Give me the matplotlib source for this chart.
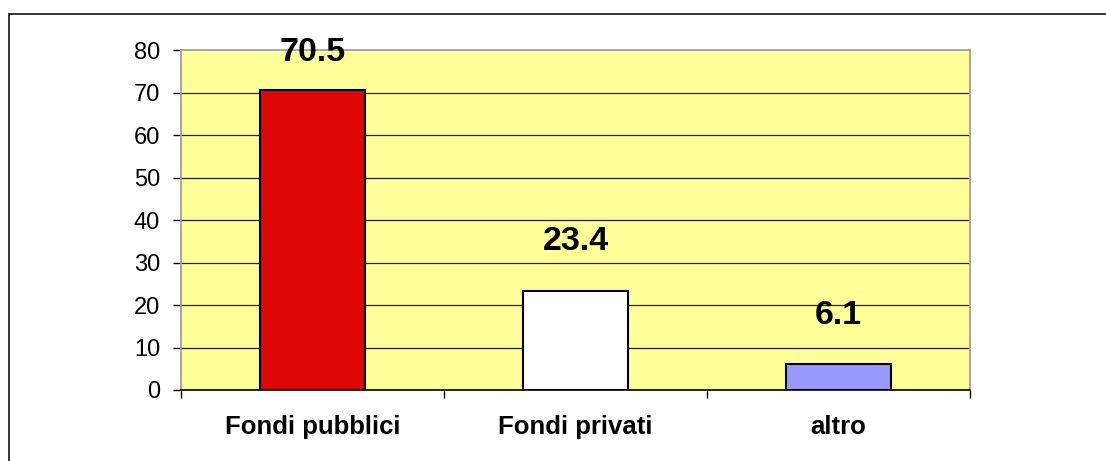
import matplotlib
matplotlib.use("Agg")
import matplotlib.pyplot as plt
from matplotlib.lines import Line2D

categories = ["Fondi pubblici", "Fondi privati", "altro"]
values = [70.5, 23.4, 6.1]
labels = ["70.5", "23.4", "6.1"]
colors = ["#DD0806", "#FFFFFF", "#9999FF"]
yticks = [0, 10, 20, 30, 40, 50, 60, 70, 80]

plt.rcParams['font.family'] = ['Liberation Sans', 'DejaVu Sans']
W, H = 1106, 461
fig = plt.figure(figsize=(W/100, H/100), dpi=100)
# outer chart frame (only top and left edges visible within image)
fig.lines.append(Line2D([8.5/W, 1.0], [1-14/H, 1-14/H], transform=fig.transFigure,
                        color='#333333', linewidth=1.4))
fig.lines.append(Line2D([8.5/W, 8.5/W], [0.0, 1-14/H], transform=fig.transFigure,
                        color='#333333', linewidth=1.4))
ax = fig.add_axes([181/W, 1-390/H, (970-181)/W, (390-50)/H])
ax.set_facecolor('#FFFF99')
x = list(range(len(categories)))
ax.bar(x, values, width=0.40, color=colors, edgecolor='black', linewidth=1.5, zorder=3)
ax.set_xlim(-0.5, 2.5)
ax.set_ylim(0, 80)
ax.set_yticks(yticks)
ax.set_yticklabels([str(t) for t in yticks], fontsize=17)
for t in yticks[1:-1]:
    ax.axhline(t, color='#222222', linewidth=0.9, zorder=1)
ax.set_xticks(x)
ax.set_xticklabels(categories, fontsize=18.5, fontweight='bold')
ax.tick_params(axis='x', length=0, pad=18)
ax.set_xticks([-0.5, 0.5, 1.5, 2.5], minor=True)
ax.tick_params(axis='x', which='minor', length=6, width=1, color='black', direction='out')
ax.tick_params(axis='y', length=6, width=1, direction='out', pad=9)
for s in ['top', 'right', 'left']:
    ax.spines[s].set_color('#999999')
    ax.spines[s].set_linewidth(1.2)
ax.spines['bottom'].set_color('black')
ax.spines['bottom'].set_linewidth(1.2)
for xi, v, lab in zip(x, values, labels):
    ax.text(xi, min(v + 11.5, 79.3), lab, ha='center', va='center',
            fontsize=24.5, fontweight='bold', zorder=5, clip_on=False)
fig.savefig('out.png', dpi=100)
